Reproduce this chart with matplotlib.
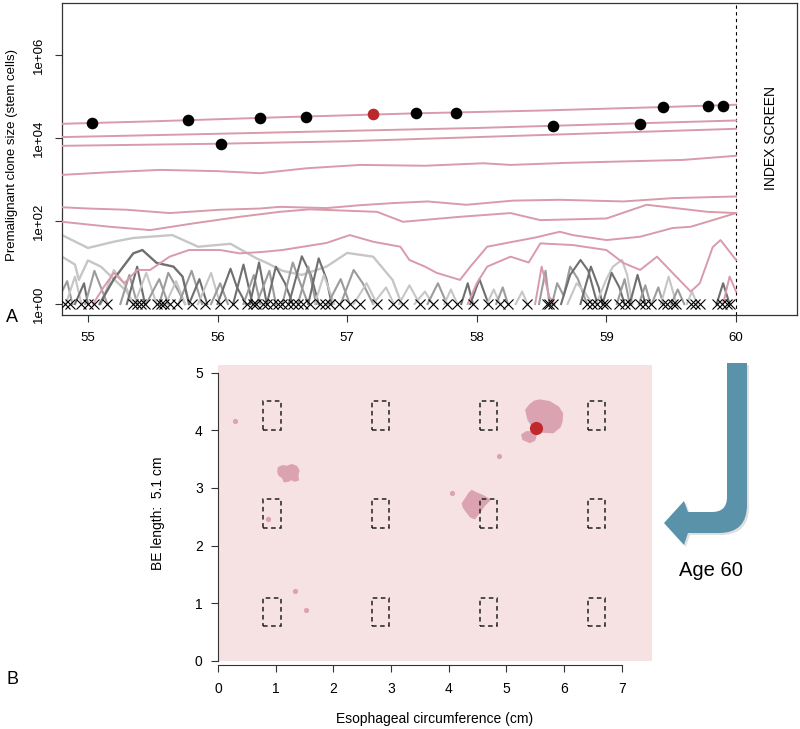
import numpy as np
import matplotlib
matplotlib.use('Agg')
import matplotlib.pyplot as plt
from matplotlib.patches import Polygon, Rectangle, PathPatch
from matplotlib.path import Path
from matplotlib.ticker import NullLocator

plt.rcParams['font.family'] = ['Liberation Sans', 'DejaVu Sans']

# ================= Panel A data (age in years, log10 clone size) =================
line1_t = [54.8, 55.5, 56.5, 57.5, 58.5, 59.5, 60.0]
line1_L = [4.34, 4.40, 4.50, 4.59, 4.66, 4.75, 4.80]
line2_t = [54.8, 56.0, 57.0, 58.0, 59.0, 60.0]
line2_L = [4.02, 4.10, 4.17, 4.24, 4.33, 4.42]
line3_t = [54.8, 56.0, 57.0, 58.0, 59.0, 60.0]
line3_L = [3.81, 3.86, 3.92, 4.02, 4.12, 4.22]
line4_t = [54.8, 55.2, 55.56, 56.0, 56.33, 56.69, 57.1, 57.6, 58.05, 58.26, 58.7, 59.08, 59.59, 60.0]
line4_L = [3.11, 3.18, 3.23, 3.2, 3.15, 3.27, 3.35, 3.33, 3.39, 3.35, 3.4, 3.43, 3.47, 3.57]
line5_t = [54.8, 55.0, 55.3, 55.63, 56.02, 56.33, 56.48, 56.84, 57.1, 57.35, 57.62, 57.92, 58.28, 58.64, 59.13, 59.51, 60.0]
line5_L = [2.33, 2.30, 2.27, 2.19, 2.27, 2.30, 2.34, 2.31, 2.38, 2.43, 2.47, 2.39, 2.49, 2.51, 2.47, 2.55, 2.59]
line6_t = [54.8, 55.17, 55.48, 55.81, 56.17, 56.48, 56.71, 57.23, 57.43, 57.87, 58.26, 58.49, 59.0, 59.31, 59.78, 60.0]
line6_L = [1.98, 1.86, 1.78, 1.94, 2.10, 2.22, 2.28, 2.22, 1.98, 2.10, 2.19, 2.02, 2.06, 2.39, 2.22, 2.19]
line7_t = [55.04, 55.12, 55.2, 55.28, 55.38, 55.48, 55.63, 55.78, 56.02, 56.17, 56.33, 56.5, 56.7, 56.84,
           57.02, 57.2, 57.41, 57.48, 57.6, 57.69, 57.87, 57.95, 58.08, 58.28, 58.45, 58.64, 58.74, 59.0,
           59.26, 59.51, 59.65, 59.82, 60.0]
line7_L = [0.0, 0.4, 0.75, 0.5, 0.82, 0.82, 1.14, 1.3, 1.3, 1.22, 1.25, 1.3, 1.4, 1.47,
           1.66, 1.5, 1.38, 1.06, 0.9, 0.75, 0.58, 0.9, 1.38, 1.50, 1.6, 1.74, 1.66, 1.54,
           1.62, 1.83, 1.86, 2.02, 2.19]
line8_t = [57.93, 58.0, 58.08, 58.26, 58.4, 58.49, 58.74, 59.0, 59.13, 59.26, 59.39, 59.51, 59.65, 59.72, 59.82, 59.88, 60.0]
line8_L = [0.0, 0.5, 0.9, 1.14, 1.0, 1.46, 1.42, 1.30, 0.99, 0.82, 1.14, 0.75, 0.3, 0.5, 1.37, 1.54, 1.06]
pink_spike1_t = [58.45, 58.5, 58.56, 58.6]
pink_spike1_L = [0.0, 0.9, 0.17, 0.0]
pink_spike2_t = [59.9, 59.95, 60.0]
pink_spike2_L = [0.0, 0.66, 0.3]

gray1_t = [54.8, 55.0, 55.2, 55.35, 55.65, 55.85, 56.1, 56.3, 56.38, 56.5, 56.65, 56.84, 57.0, 57.2, 57.35, 57.42]
gray1_L = [1.66, 1.35, 1.5, 1.59, 1.66, 1.38, 1.45, 1.1, 0.99, 0.8, 0.7, 0.9, 1.23, 1.14, 0.58, 0.0]
gray2_t = [54.8, 54.9, 54.93, 55.0, 55.1, 55.2, 55.3, 55.35]
gray2_L = [1.14, 0.95, 0.58, 1.05, 0.9, 0.6, 0.3, 0.0]
dark1_t = [55.09, 55.2, 55.35, 55.42, 55.53, 55.66, 55.73, 55.78]
dark1_L = [0.0, 0.6, 1.22, 1.30, 0.99, 0.9, 0.66, 0.0]

# short-lived gray clones: (shade, ages, log10 sizes)
gray_spikes = [
    ('m', [54.8, 54.84, 54.88], [0.3, 0.55, 0]),
    ('l', [54.83, 54.9, 54.95], [0, 0.66, 0]),
    ('d', [54.9, 54.97, 55.0], [0, 0.5, 0]),
    ('m', [54.98, 55.05, 55.1, 55.15], [0, 0.8, 0.4, 0]),
    ('l', [55.1, 55.2, 55.28, 55.35], [0, 0.82, 0.5, 0]),
    ('m', [55.25, 55.32, 55.38], [0, 0.7, 0]),
    ('d', [55.3, 55.38, 55.44], [0, 0.9, 0]),
    ('l', [55.36, 55.45, 55.53], [0, 0.75, 0]),
    ('m', [55.45, 55.55, 55.62], [0, 0.6, 0]),
    ('m', [55.55, 55.62, 55.7, 55.75], [0, 0.75, 0.3, 0]),
    ('l', [55.6, 55.68, 55.75], [0, 0.55, 0]),
    ('m', [55.7, 55.8, 55.88], [0, 0.8, 0]),
    ('d', [55.78, 55.86, 55.92], [0, 0.6, 0]),
    ('l', [55.85, 55.95, 56.02], [0, 0.75, 0]),
    ('m', [55.95, 56.02, 56.08], [0, 0.5, 0]),
    ('d', [56.0, 56.1, 56.15, 56.22], [0, 0.85, 0.4, 0]),
    ('d', [56.12, 56.2, 56.27], [0, 0.95, 0]),
    ('m', [56.2, 56.28, 56.33], [0, 0.7, 0]),
    ('d', [56.25, 56.32, 56.38], [0, 1.0, 0]),
    ('m', [56.3, 56.4, 56.45], [0, 0.8, 0]),
    ('d', [56.38, 56.45, 56.52, 56.58], [0, 0.9, 0.5, 0]),
    ('m', [56.5, 56.58, 56.65, 56.7], [0, 1.0, 0.4, 0]),
    ('d', [56.55, 56.65, 56.72, 56.78], [0, 1.15, 0.7, 0]),
    ('m', [56.62, 56.7, 56.76], [0, 0.9, 0]),
    ('d', [56.7, 56.78, 56.84, 56.88], [0, 1.1, 0.6, 0]),
    ('l', [56.75, 56.82, 56.9], [0, 0.7, 0]),
    ('m', [56.85, 56.95, 57.02], [0, 0.6, 0]),
    ('m', [56.95, 57.05, 57.12, 57.2], [0, 0.82, 0.5, 0]),
    ('l', [57.05, 57.15, 57.23], [0, 0.5, 0]),
    ('l', [57.2, 57.3, 57.36], [0, 0.4, 0]),
    ('l', [57.4, 57.48, 57.56], [0, 0.45, 0]),
    ('l', [57.52, 57.6, 57.66], [0, 0.3, 0]),
    ('m', [57.62, 57.7, 57.77], [0, 0.5, 0]),
    ('l', [57.75, 57.8, 57.85], [0, 0.35, 0]),
    ('d', [57.88, 57.93, 57.97], [0, 0.5, 0]),
    ('d', [57.95, 58.02, 58.09], [0, 0.6, 0]),
    ('l', [58.08, 58.13, 58.18], [0, 0.35, 0]),
    ('m', [58.15, 58.2, 58.24], [0, 0.4, 0]),
    ('l', [58.3, 58.35, 58.39], [0, 0.3, 0]),
    ('m', [58.48, 58.53, 58.56], [0, 0.8, 0]),
    ('m', [58.58, 58.62, 58.67, 58.72, 58.78, 58.85], [0, 0.5, 0.2, 0.9, 0.6, 0]),
    ('d', [58.65, 58.72, 58.8, 58.86, 58.93], [0, 0.7, 1.06, 0.8, 0]),
    ('l', [58.7, 58.77, 58.83, 58.89], [0, 0.5, 0.3, 0]),
    ('d', [58.8, 58.88, 58.94, 58.97], [0, 0.9, 0.4, 0]),
    ('l', [58.92, 59.0, 59.05, 59.12, 59.16, 59.2], [0, 0.6, 0.9, 1.06, 0.7, 0]),
    ('d', [58.97, 59.04, 59.1, 59.14], [0, 0.75, 0.4, 0]),
    ('m', [59.08, 59.14, 59.18], [0, 0.6, 0]),
    ('d', [59.18, 59.24, 59.3], [0, 0.7, 0]),
    ('m', [59.25, 59.3, 59.34], [0, 0.45, 0]),
    ('m', [59.35, 59.4, 59.44], [0, 0.4, 0]),
    ('l', [59.42, 59.48, 59.54], [0, 0.66, 0]),
    ('m', [59.5, 59.55, 59.6], [0, 0.35, 0]),
    ('l', [59.62, 59.66, 59.7], [0, 0.3, 0]),
    ('d', [59.85, 59.9, 59.95], [0, 0.5, 0]),
]

# extinctions (x marks at size 1)
extinct_t = [54.82, 54.86, 54.95, 55.0, 55.05, 55.15, 55.35, 55.38, 55.41, 55.44, 55.53, 55.56, 55.59,
             55.63, 55.69, 55.80, 55.90, 56.02, 56.12, 56.23, 56.27, 56.30, 56.35, 56.38, 56.43, 56.47,
             56.50, 56.54, 56.58, 56.62, 56.66, 56.71, 56.79, 56.83, 56.87, 56.94, 57.02, 57.10, 57.23,
             57.35, 57.43, 57.56, 57.66, 57.77, 57.85, 57.97, 58.09, 58.18, 58.24, 58.39, 58.54, 58.56,
             58.59, 58.85, 58.89, 58.93, 58.97, 59.0, 59.10, 59.14, 59.18, 59.26, 59.30, 59.34, 59.44,
             59.47, 59.51, 59.54, 59.65, 59.68, 59.72, 59.85, 59.89, 59.93, 59.95]

# sampled biopsies (dots on the large clones)
dots_t = [55.03, 55.77, 56.33, 56.68, 57.53, 57.84, 59.44, 59.78, 59.90, 58.59, 59.26, 56.03]
dots_L = [4.36, 4.43, 4.48, 4.51, 4.59, 4.61, 4.75, 4.77, 4.77, 4.29, 4.33, 3.85]
red_dot_t = [57.2]
red_dot_L = [4.58]

# ================= Panel B data (cm) =================
biopsy_x = [0.9375, 2.8125, 4.6875, 6.5625]
biopsy_y = [0.85, 2.55, 4.25]
blob_a = [(1.05, 3.35), (1.12, 3.38), (1.2, 3.37), (1.28, 3.40), (1.36, 3.37), (1.40, 3.30), (1.38, 3.22),
          (1.39, 3.14), (1.33, 3.12), (1.27, 3.15), (1.22, 3.12), (1.15, 3.11), (1.12, 3.18), (1.06, 3.22),
          (1.04, 3.28)]
blob_b = [(4.40, 2.95), (4.48, 2.91), (4.60, 2.86), (4.71, 2.79), (4.62, 2.70), (4.54, 2.59), (4.45, 2.47),
          (4.38, 2.50), (4.31, 2.59), (4.26, 2.66), (4.24, 2.73), (4.30, 2.82), (4.35, 2.90)]
blob_c = [(5.58, 4.52), (5.75, 4.49), (5.90, 4.40), (5.97, 4.29), (5.96, 4.15), (5.93, 4.06), (5.81, 3.96),
          (5.64, 3.97), (5.52, 3.98), (5.46, 4.06), (5.38, 4.18), (5.34, 4.35), (5.41, 4.44), (5.49, 4.50)]
blob_c_lobe = [(5.27, 3.92), (5.35, 3.97), (5.45, 3.97), (5.52, 3.94), (5.49, 3.83), (5.41, 3.79), (5.29, 3.84)]
small_x = [0.29, 0.86, 1.33, 1.52, 4.06, 4.88]
small_y = [4.16, 2.46, 1.21, 0.89, 2.92, 3.55]
red_cell_x = [5.52]
red_cell_y = [4.04]

PINK = '#d99aab'
SHADES = {'l': '#c6c6c6', 'm': '#9c9c9c', 'd': '#6f6f6f'}
W, H = 800, 729

fig = plt.figure(figsize=(8, 7.29), dpi=100)

# ---------------- Panel A ----------------
ax = fig.add_axes([62 / W, 1 - 315 / H, 735 / W, 312 / H])
v = lambda L: 10 ** np.asarray(L, dtype=float)

ax.plot(gray1_t, v(gray1_L), color=SHADES['l'], lw=1.7, zorder=2)
ax.plot(gray2_t, v(gray2_L), color=SHADES['l'], lw=1.7, zorder=2)
for shade, ts, Ls in gray_spikes:
    ax.plot(ts, v(Ls), color=SHADES[shade], lw=1.5, zorder=2)
ax.plot(dark1_t, v(dark1_L), color=SHADES['d'], lw=1.7, zorder=2)

for ts, Ls in [(line1_t, line1_L), (line2_t, line2_L), (line3_t, line3_L), (line4_t, line4_L),
               (line5_t, line5_L), (line6_t, line6_L), (line7_t, line7_L), (line8_t, line8_L),
               (pink_spike1_t, pink_spike1_L), (pink_spike2_t, pink_spike2_L)]:
    ax.plot(ts, v(Ls), color=PINK, lw=1.4, zorder=3)

ax.plot(extinct_t, np.ones(len(extinct_t)), 'x', color='k', ms=6.5, mew=0.8, zorder=4)
ax.scatter(dots_t, v(dots_L), s=70, color='k', zorder=5, linewidths=0)
ax.scatter(red_dot_t, v(red_dot_L), s=70, color='#b8282c', zorder=5, linewidths=0)

ax.axvline(60, color='k', lw=0.8, ls=(0, (3, 3)), zorder=1)
ax.text(60.27, 10 ** 4.0, 'INDEX SCREEN', rotation=90, ha='center', va='center', fontsize=10)

ax.set_yscale('log')
ax.set_xlim(54.8, 60.47)
ax.set_ylim(10 ** -0.265, 10 ** 7.25)
ax.set_xticks([55, 56, 57, 58, 59, 60])
ax.set_xticklabels(['55', '56', '57', '58', '59', '60'], fontsize=9.5)
ax.set_yticks([1, 1e2, 1e4, 1e6])
ax.set_yticklabels(['1e+00', '1e+02', '1e+04', '1e+06'], rotation=90, va='center', fontsize=9.5)
ax.yaxis.set_minor_locator(NullLocator())
ax.tick_params(axis='both', direction='out', length=5, width=0.8, color='#333333')
ax.tick_params(axis='x', pad=7)
ax.tick_params(axis='y', pad=7)
for s in ax.spines.values():
    s.set_color('#333333')
    s.set_linewidth(0.9)
fig.text(12 / W, 1 - 155 / H, 'Premalignant clone size (stem cells)', rotation=90,
         ha='center', va='center', fontsize=9.5)
fig.text(12 / W, 1 - 318 / H, 'A', ha='center', va='center', fontsize=13)

# ---------------- Panel B ----------------
bx = fig.add_axes([218 / W, 1 - 661 / H, 433.7 / W, 296 / H])
bx.set_facecolor('#f6e2e2')
bx.set_xlim(0, 7.52)
bx.set_ylim(0, 5.13)

BLOB = '#dba3b1'
for poly in [blob_a, blob_b, blob_c, blob_c_lobe]:
    bx.add_patch(Polygon(poly, closed=True, facecolor=BLOB, edgecolor=BLOB, lw=1.2, joinstyle='round', zorder=2))
bx.scatter(small_x, small_y, s=14, color=BLOB, linewidths=0, zorder=2)
bx.scatter(red_cell_x, red_cell_y, s=90, color='#c1282e', linewidths=0, zorder=4)

for cx in biopsy_x:
    for cy in biopsy_y:
        bx.add_patch(Rectangle((cx - 0.15, cy - 0.25), 0.3, 0.5, fill=False, ec='#222222',
                               lw=1.1, ls=(0, (3, 2.3)), zorder=3))

bx.spines['top'].set_visible(False)
bx.spines['right'].set_visible(False)
bx.spines['left'].set_bounds(0, 5)
bx.spines['bottom'].set_bounds(0, 7)
bx.spines['bottom'].set_position(('outward', 3))
for s in ['left', 'bottom']:
    bx.spines[s].set_color('#333333')
    bx.spines[s].set_linewidth(0.8)
bx.set_xticks(range(8))
bx.set_yticks(range(6))
bx.tick_params(axis='both', direction='out', length=5, width=0.8, color='#333333', labelsize=10)
bx.tick_params(axis='x', pad=7)
bx.tick_params(axis='y', pad=6)
fig.text(435 / W, 1 - 719 / H, 'Esophageal circumference (cm)', ha='center', va='center', fontsize=10)
fig.text(158 / W, 1 - 513 / H, 'BE length:  5.1 cm', rotation=90, ha='center', va='center', fontsize=10)
fig.text(12 / W, 1 - 679 / H, 'B', ha='center', va='center', fontsize=13)

# ---------------- Arrow (figure pixel coordinates) ----------------
def P(x, y, dx=0, dy=0):
    return ((x + dx) / W, 1 - (y + dy) / H)

def arrow_path(dx=0, dy=0):
    verts = [P(727, 363, dx, dy), P(747, 363, dx, dy), P(747, 505, dx, dy),
             P(747, 533, dx, dy), P(719, 533, dx, dy),
             P(688, 533, dx, dy), P(684, 545, dx, dy), P(664, 523, dx, dy), P(684, 501, dx, dy),
             P(688, 512, dx, dy), P(712, 512, dx, dy),
             P(727, 512, dx, dy), P(727, 497, dx, dy), P(727, 363, dx, dy)]
    codes = [Path.MOVETO, Path.LINETO, Path.LINETO, Path.CURVE3, Path.CURVE3,
             Path.LINETO, Path.LINETO, Path.LINETO, Path.LINETO, Path.LINETO, Path.LINETO,
             Path.CURVE3, Path.CURVE3, Path.CLOSEPOLY]
    return Path(verts, codes)

fig.patches.append(PathPatch(arrow_path(2, 2), transform=fig.transFigure, facecolor='#000000',
                             alpha=0.12, edgecolor='none'))
fig.patches.append(PathPatch(arrow_path(), transform=fig.transFigure, facecolor='#5a93a9',
                             edgecolor='none'))
fig.text(711 / W, 1 - 570 / H, 'Age 60', ha='center', va='center', fontsize=14.5)

fig.savefig('out.png', dpi=100)
